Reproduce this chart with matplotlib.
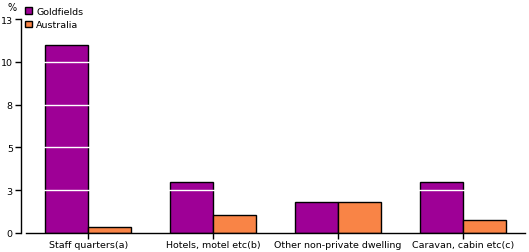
import matplotlib.pyplot as plt
import numpy as np
from matplotlib.patches import Patch

categories = ["Staff quarters(a)", "Hotels, motel etc(b)", "Other non-private dwelling", "Caravan, cabin etc(c)"]
goldfields = [11.0, 2.95, 1.8, 2.95]
australia = [0.35, 1.05, 1.8, 0.75]
yticks = [0, 2.5, 5, 7.5, 10, 12.5]
ytick_labels = ["0", "3", "5", "8", "10", "13"]

purple = "#9E0096"
orange = "#F98446"

fig = plt.figure(figsize=(5.29, 2.53), dpi=100)
ax = fig.add_axes([26/529, 19/253, 499/529, 214/253])

x = np.arange(len(categories))
w = 0.345
ax.bar(x - w/2, goldfields, w, color=purple, edgecolor="black", linewidth=1.0, zorder=2)
ax.bar(x + w/2, australia, w, color=orange, edgecolor="black", linewidth=1.0, zorder=2)

# white grid lines only show over the bars
for t in yticks[1:]:
    ax.axhline(t, color="white", linewidth=1.0, zorder=3)

ax.set_xlim(-0.5, 3.5)
ax.set_ylim(0, 12.5)
ax.set_yticks(yticks)
ax.set_yticklabels(ytick_labels)
ax.set_xticks(x)
ax.set_xticklabels(categories)
ax.tick_params(axis="both", labelsize=6.8, length=4, width=1, colors="black")
ax.tick_params(axis="x", pad=1)
ax.tick_params(axis="y", pad=2)

for s in ["top", "right"]:
    ax.spines[s].set_visible(False)
ax.spines["left"].set_position(("outward", 3.5))
ax.spines["left"].set_linewidth(1)
ax.spines["bottom"].set_linewidth(1)

fig.text(12/529, 1 - 8/253, "%", fontsize=7, ha="center", va="center")

handles = [Patch(facecolor=purple, edgecolor="black", label="Goldfields"),
           Patch(facecolor=orange, edgecolor="black", label="Australia")]
fig.legend(handles=handles, loc="upper left", bbox_to_anchor=(25/529, 1 - 8/253),
           frameon=False, fontsize=6.8, handlelength=0.7, handleheight=0.7,
           handletextpad=0.5, labelspacing=0.45, borderpad=0, borderaxespad=0)

fig.savefig("out.png", dpi=100)
